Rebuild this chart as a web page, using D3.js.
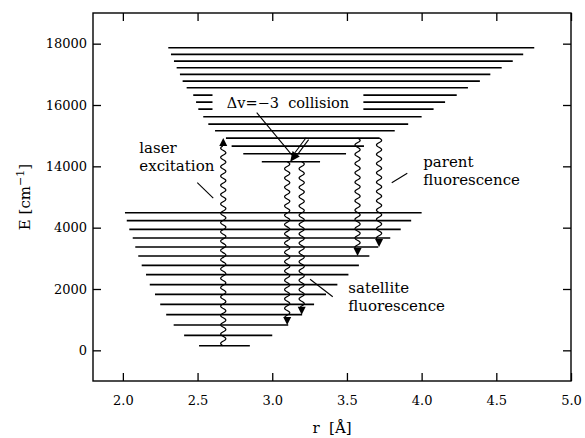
<!DOCTYPE html>
<html><head><meta charset="utf-8">
<script src="https://cdn.jsdelivr.net/npm/d3@7"></script>
<style>
body{margin:0;background:#fff;}
svg{display:block;}
text{font-family:"DejaVu Serif",serif;fill:#000;}
</style></head>
<body><div id="chart"></div>
<script>
// ---- data ----
const rTicks = [2.0, 2.5, 3.0, 3.5, 4.0, 4.5, 5.0];
const eTicks = [0, 2000, 4000, 14000, 16000, 18000];

// lower (ground) state vibrational levels
const lowerE    = [150, 490, 826, 1162, 1500, 1827, 2140, 2466, 2772, 3076, 3369, 3663, 3946, 4227, 4487];
const lowerRmin = [2.51, 2.41, 2.34, 2.29, 2.25, 2.215, 2.18, 2.155, 2.126, 2.103, 2.083, 2.066, 2.043, 2.026, 2.014];
const lowerRmax = [2.85, 3.0, 3.107, 3.2, 3.28, 3.36, 3.436, 3.51, 3.58, 3.65, 3.71, 3.79, 3.86, 3.93, 4.0];

// upper (excited) state vibrational levels
const upperE    = [14150, 14411, 14662, 14923, 15161, 15379, 15617, 15868, 16097, 16325, 16563, 16781, 17000, 17215, 17433, 17652, 17867];
const upperRmin = [2.93, 2.806, 2.728, 2.69, 2.617, 2.572, 2.538, 2.505, 2.49, 2.471, 2.427, 2.40, 2.382, 2.36, 2.342, 2.322, 2.304];
const upperRmax = [3.32, 3.494, 3.614, 3.717, 3.82, 3.91, 4.0, 4.08, 4.157, 4.235, 4.31, 4.39, 4.46, 4.536, 4.61, 4.68, 4.754];

// radiative transitions (wavy arrows)
const transR    = [2.672, 3.10, 3.197, 3.571, 3.715];
const transFrom = [150, 14150, 14150, 14923, 14923];
const transTo   = [14923, 826, 1162, 3076, 3369];

// collision transfer (Δv = -3)
const collR = [3.235, 3.12];
const collE = [14900, 14150];

// text labels [r, E] and leader lines
const labelText  = [["laser", "excitation"], ["parent", "fluorescence"], ["satellite", "fluorescence"]];
const labelR     = [2.11, 4.011, 3.509];
const labelE     = [14430, 13805, 1860];
const leaderR    = [[2.498, 2.605], [3.80, 3.904], [3.253, 3.405], [2.896, 3.132]];
const leaderE    = [[9200, 4960], [9200, 11960], [2316, 1749], [15754, 14368]];
const collLabel  = "Δv=−3  collision";
const collLabelR = 3.105, collLabelE = 15917;
const gapR = [2.60, 3.61], gapE = [15740, 16420];

// ---- layout ----
const W = 585, H = 438;
const L = 93, R = 571, T = 13, B = 381;
const h = B - T;

const svg = d3.select("#chart").append("svg").attr("width", W).attr("height", H);
svg.append("rect").attr("width", W).attr("height", H).attr("fill", "#fff");

const x = d3.scaleLinear().domain([1.8, 5.0]).range([L, R]);
// broken energy axis: 5000 -> 14000 compressed to half a tick interval
const y = d3.scaleLinear()
  .domain([-1000, 5000, 14000, 19000])
  .range([B, B - h * 6 / 12, B - h * 7 / 12, T]);

const lw = 1.7;
const g = svg.append("g");

// lower levels
g.selectAll("line.low").data(lowerE).join("line")
  .attr("x1", (d, i) => x(lowerRmin[i])).attr("x2", (d, i) => x(lowerRmax[i]))
  .attr("y1", d => y(d)).attr("y2", d => y(d))
  .attr("stroke", "#000").attr("stroke-width", lw);

// upper levels
g.selectAll("line.up").data(upperE).join("line")
  .attr("x1", (d, i) => x(upperRmin[i])).attr("x2", (d, i) => x(upperRmax[i]))
  .attr("y1", d => y(d)).attr("y2", d => y(d))
  .attr("stroke", "#000").attr("stroke-width", lw);

// gap for collision label
g.append("rect")
  .attr("x", x(gapR[0])).attr("width", x(gapR[1]) - x(gapR[0]))
  .attr("y", y(gapE[1])).attr("height", y(gapE[0]) - y(gapE[1]))
  .attr("fill", "#fff");

// wavy arrows
const A = 2.6, P = 9.3, head = 8, hw = 4;
function wave(xc, ya, yb) {
  const n = Math.ceil(Math.abs(yb - ya) / 0.5);
  const pts = [];
  for (let i = 0; i <= n; i++) {
    const yy = ya + (yb - ya) * i / n;
    pts.push([xc + A * Math.sin(2 * Math.PI * (yy - ya) / P), yy]);
  }
  return d3.line()(pts);
}
transR.forEach((r, i) => {
  const xc = x(r), y0 = y(transFrom[i]), yt = y(transTo[i]);
  const dir = yt < y0 ? -1 : 1;
  const yb = yt - dir * head;
  g.append("path").attr("d", wave(xc, y0, yb))
    .attr("fill", "none").attr("stroke", "#000").attr("stroke-width", 1.2);
  g.append("path")
    .attr("d", `M${xc},${yt}L${xc - hw},${yb}L${xc + hw},${yb}Z`)
    .attr("fill", "#000");
});

// collision arrow (double shaft)
(function () {
  const sx = x(collR[0]), sy = y(collE[0]), tx = x(collR[1]), ty = y(collE[1]);
  const len = Math.hypot(tx - sx, ty - sy);
  const ux = (tx - sx) / len, uy = (ty - sy) / len;
  const nx = -uy, ny = ux;
  const bx = tx - 10 * ux, by = ty - 10 * uy;
  [-1.6, 1.6].forEach(o => {
    g.append("line").attr("x1", sx + o * nx).attr("y1", sy + o * ny)
      .attr("x2", bx + o * nx).attr("y2", by + o * ny)
      .attr("stroke", "#000").attr("stroke-width", 1.1);
  });
  g.append("path")
    .attr("d", `M${tx},${ty}L${bx + 4.5 * nx},${by + 4.5 * ny}L${bx - 4.5 * nx},${by - 4.5 * ny}Z`)
    .attr("fill", "#000");
})();

// leader lines
leaderR.forEach((rr, i) => {
  g.append("line")
    .attr("x1", x(rr[0])).attr("y1", y(leaderE[i][0]))
    .attr("x2", x(rr[1])).attr("y2", y(leaderE[i][1]))
    .attr("stroke", "#000").attr("stroke-width", 1.1);
});

// labels
labelText.forEach((lines, i) => {
  const t = g.append("text").attr("x", x(labelR[i])).attr("y", y(labelE[i]))
    .attr("font-size", 15);
  lines.forEach((s, j) => {
    t.append("tspan").attr("x", x(labelR[i])).attr("dy", j === 0 ? 0 : "1.2em").text(s);
  });
});
g.append("text").attr("x", x(collLabelR)).attr("y", y(collLabelE))
  .attr("text-anchor", "middle").attr("font-size", 14.5)
  .attr("xml:space", "preserve").style("white-space", "pre")
  .text(collLabel);

// ---- axes ----
const tickLen = 8;
const fmtR = d3.format(".1f");
const axB = svg.append("g").attr("transform", `translate(0,${B})`)
  .call(d3.axisBottom(x).tickValues(rTicks).tickFormat(fmtR).tickSizeInner(-tickLen).tickSizeOuter(0).tickPadding(15));
const axT = svg.append("g").attr("transform", `translate(0,${T})`)
  .call(d3.axisTop(x).tickValues(rTicks).tickFormat("").tickSizeInner(-tickLen).tickSizeOuter(0));
const axL = svg.append("g").attr("transform", `translate(${L},0)`)
  .call(d3.axisLeft(y).tickValues(eTicks).tickFormat(d3.format("d")).tickSizeInner(-tickLen).tickSizeOuter(0).tickPadding(6));
const axR = svg.append("g").attr("transform", `translate(${R},0)`)
  .call(d3.axisRight(y).tickValues(eTicks).tickFormat("").tickSizeInner(-tickLen).tickSizeOuter(0));
[axB, axT, axL, axR].forEach(a => {
  a.select(".domain").remove();
  a.selectAll("line").attr("stroke", "#000").attr("stroke-width", 1.3);
  a.selectAll("text").attr("font-family", "DejaVu Serif").attr("font-size", 13).attr("fill", "#000");
});

svg.append("rect").attr("x", L).attr("y", T).attr("width", R - L).attr("height", B - T)
  .attr("fill", "none").attr("stroke", "#000").attr("stroke-width", 1.4);

// axis titles
svg.append("text").attr("x", (L + R) / 2).attr("y", 433).attr("text-anchor", "middle")
  .attr("font-size", 15).attr("xml:space", "preserve").style("white-space", "pre").text("r  [Å]");
const yl = svg.append("text").attr("transform", `translate(30,${(T + B) / 2}) rotate(-90)`)
  .attr("text-anchor", "middle").attr("font-size", 15);
yl.append("tspan").text("E [cm");
yl.append("tspan").attr("font-size", 11).attr("dy", "-0.55em").text("−1");
yl.append("tspan").attr("dy", "0.4em").text("]");
</script></body></html>
